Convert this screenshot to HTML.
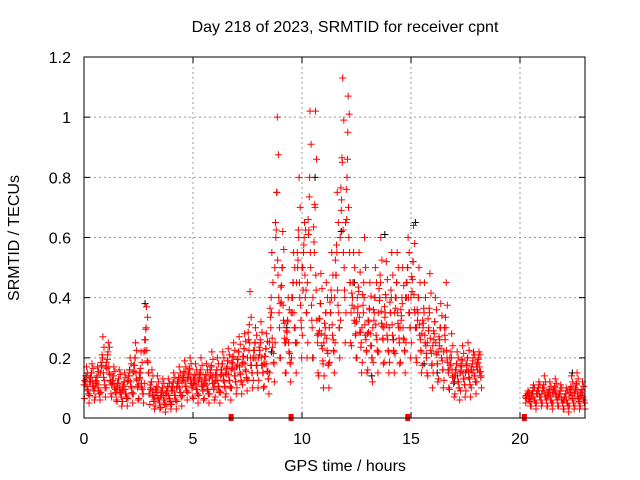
<!DOCTYPE html>
<html><head><meta charset="utf-8"><style>
body{margin:0;background:#fff}
svg{display:block;font-family:"Liberation Sans",sans-serif;font-size:16px}
</style></head><body>
<svg id="chart" width="640" height="480" viewBox="0 0 640 480">
<text x="345" y="32" text-anchor="middle">Day 218 of 2023, SRMTID for receiver cpnt</text>
<text transform="translate(19,238) rotate(-90)" text-anchor="middle">SRMTID / TECUs</text>
<text x="345" y="471" text-anchor="middle">GPS time / hours</text>
<g id="grid"></g>
<g id="marks"></g>
<rect x="84" y="57" width="501" height="361" fill="none" stroke="#000" stroke-width="1"/>
<g id="ticks"></g>
</svg>
<script>
const binStarts=[0,0.25,0.5,0.75,1,1.25,1.5,1.75,2,2.25,2.5,2.75,3,3.25,3.5,3.75,4,4.25,4.5,4.75,5,5.25,5.5,5.75,6,6.25,6.5,6.75,7,7.25,7.5,7.75,8,8.25,8.5,8.75,9,9.25,9.5,9.75,10,10.25,10.5,10.75,11,11.25,11.5,11.75,12,12.25,12.5,12.75,13,13.25,13.5,13.75,14,14.25,14.5,14.75,15,15.25,15.5,15.75,16,16.25,16.5,16.75,17,17.25,17.5,17.75,18,20.25,20.5,20.75,21,21.25,21.5,21.75,22,22.25,22.5,22.75];
const lo=[.05,.06,.06,.07,.08,.06,.04,.04,.05,.06,.05,.08,.03,.03,.02,.03,.03,.04,.06,.07,.05,.06,.05,.06,.05,.07,.06,.08,.08,.09,.10,.10,.10,.08,.12,.20,.15,.12,.15,.20,.20,.20,.15,.10,.10,.15,.20,.25,.25,.20,.15,.15,.12,.15,.18,.15,.15,.18,.15,.20,.20,.15,.15,.10,.12,.10,.10,.07,.06,.07,.07,.08,.10,.04,.03,.04,.04,.03,.04,.03,.02,.03,.03,.03];
const q1=[.08,.09,.08,.10,.12,.08,.07,.07,.08,.10,.08,.15,.06,.05,.05,.05,.06,.07,.09,.10,.08,.09,.08,.10,.09,.10,.10,.12,.12,.13,.15,.15,.15,.13,.18,.30,.25,.18,.25,.30,.35,.30,.25,.18,.18,.22,.30,.40,.45,.28,.25,.22,.20,.22,.26,.22,.22,.25,.22,.30,.30,.22,.20,.18,.18,.16,.15,.12,.10,.11,.11,.12,.14,.06,.05,.06,.06,.05,.06,.05,.04,.05,.05,.05];
const mid=[.11,.12,.10,.15,.17,.11,.10,.09,.12,.15,.11,.22,.08,.07,.07,.08,.09,.10,.12,.13,.11,.12,.11,.13,.12,.14,.15,.16,.17,.18,.20,.20,.20,.18,.25,.50,.38,.25,.35,.45,.50,.45,.40,.28,.25,.30,.40,.60,.65,.35,.32,.30,.28,.30,.35,.30,.30,.35,.30,.40,.40,.30,.28,.25,.24,.22,.22,.16,.14,.15,.15,.16,.17,.07,.07,.08,.08,.07,.08,.07,.06,.07,.08,.07];
const q3=[.13,.15,.14,.20,.22,.14,.13,.12,.16,.20,.15,.30,.12,.10,.10,.10,.12,.13,.15,.16,.14,.15,.14,.17,.16,.18,.19,.20,.22,.23,.25,.25,.25,.23,.35,.75,.50,.32,.45,.60,.60,.80,.70,.38,.35,.40,.55,.85,.95,.45,.42,.40,.36,.40,.45,.40,.40,.45,.38,.50,.52,.40,.35,.35,.32,.30,.30,.20,.18,.19,.20,.20,.20,.08,.09,.10,.10,.09,.10,.09,.08,.10,.11,.09];
const hi=[.17,.18,.17,.27,.25,.17,.16,.15,.20,.25,.22,.37,.16,.14,.13,.13,.15,.17,.19,.20,.18,.20,.18,.22,.20,.22,.23,.25,.27,.28,.42,.30,.32,.28,.55,1.0,.62,.40,.55,.80,.65,1.02,1.02,.48,.45,.55,.75,1.13,1.07,.55,.55,.60,.45,.50,.60,.52,.55,.55,.50,.60,.64,.50,.45,.48,.40,.38,.45,.28,.22,.24,.25,.22,.22,.09,.11,.12,.14,.12,.13,.11,.10,.14,.15,.12];
const blackT=[0.1,2.8,8.6,9.3,10.6,11.8,12.4,13.2,13.8,14.2,15.2,15.6,16.2,17.0,22.4,20.6];
const blackV=[.14,.38,.22,.30,.80,.62,.45,.14,.61,.26,.65,.18,.15,.12,.15,.10];
const zeroT=[6.75,9.5,14.85,20.2];
const yTicks=[0,0.2,0.4,0.6,0.8,1,1.2];
const yTickLabels=["0","0.2","0.4","0.6","0.8","1","1.2"];
const xTicks=[0,5,10,15,20];
const xTickLabels=["0","5","10","15","20"];

const NS="http://www.w3.org/2000/svg";
const X=t=>84+t*21.8, Y=v=>418-v*(361/1.2);
const grid=document.getElementById('grid'),marks=document.getElementById('marks'),ticks=document.getElementById('ticks');
function mk(tag,attrs,parent){const e=document.createElementNS(NS,tag);for(const k in attrs)e.setAttribute(k,attrs[k]);parent.appendChild(e);return e;}
yTicks.forEach((v,i)=>{
  if(v>0&&v<1.2){const g=mk('line',{x1:84,x2:585,y1:Y(v),y2:Y(v),stroke:'#999','stroke-dasharray':'2,3','stroke-width':1},grid);
  
  }
  const tk=mk('path',{d:`M84 ${Y(v)}h6M585 ${Y(v)}h-6`,stroke:'#000'},ticks);
  
  
  const t=mk('text',{x:71,y:Y(v)+6,'text-anchor':'end'},ticks);t.textContent=yTickLabels[i];
  
  
});
xTicks.forEach((v,i)=>{
  if(v>0){const g=mk('line',{x1:X(v),x2:X(v),y1:57,y2:418,stroke:'#999','stroke-dasharray':'2,3','stroke-width':1},grid);
  
  }
  const tk=mk('path',{d:`M${X(v)} 418v-6M${X(v)} 57v6`,stroke:'#000'},ticks);
  
  
  const t=mk('text',{x:X(v),y:444,'text-anchor':'middle'},ticks);t.textContent=xTickLabels[i];
  
  
});
function plus(t,v,color,name){
  const x=X(t),y=Y(v);
  const p=mk('path',{d:`M${x-3.5} ${y}h7M${x} ${y-3.5}v7`,stroke:color,'stroke-width':1,fill:'none'},marks);
  
  
}
blackT.forEach((t,i)=>plus(t,blackV[i],'#000','black-point'));
const order=[mid,hi,lo,q3,q1];
binStarts.forEach((t0,i)=>{
  const vals=order.map(a=>a[i]);
  const pts=vals.slice();
  for(let a=0;a<5;a++)for(let b=a+1;b<5;b++)pts.push((vals[a]+vals[b])/2);
  const n=pts.length;
  pts.forEach((v,k)=>{plus(t0+((k*7)%n)*0.25/n,v,'#f00','red-point');});
});
zeroT.forEach(t=>{
  const r=mk('rect',{x:X(t)-2.5,y:414,width:5,height:7,fill:'#f00'},marks);
  
  
});
</script>
</body></html>
